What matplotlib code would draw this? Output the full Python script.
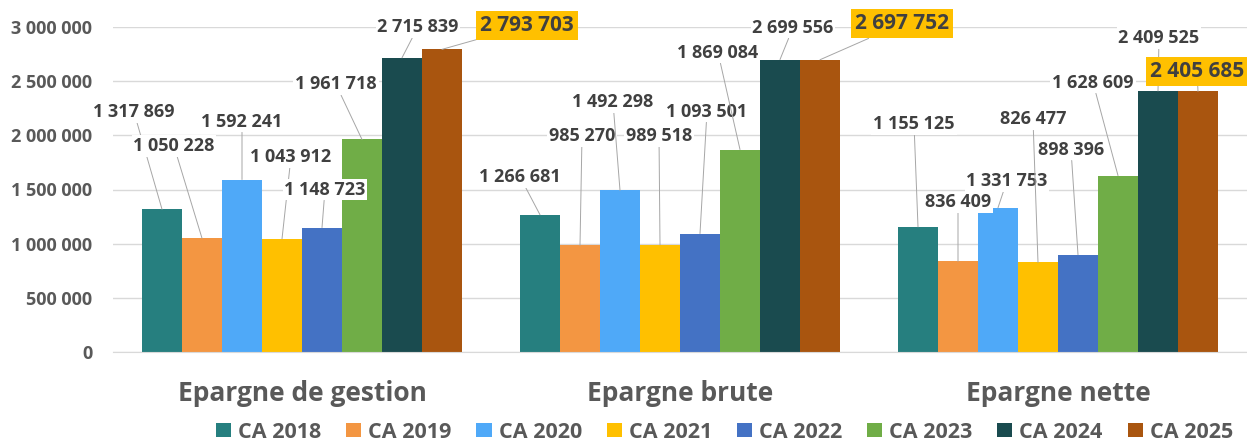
import matplotlib
matplotlib.use('Agg')
import matplotlib.pyplot as plt
import numpy as np

# --- Données ---
categories = ['Epargne de gestion', 'Epargne brute', 'Epargne nette']
series = ['CA 2018', 'CA 2019', 'CA 2020', 'CA 2021', 'CA 2022', 'CA 2023', 'CA 2024', 'CA 2025']

ca_2018 = [1317869, 1266681, 1155125]
ca_2019 = [1050228, 985270, 836409]
ca_2020 = [1592241, 1492298, 1331753]
ca_2021 = [1043912, 989518, 826477]
ca_2022 = [1148723, 1093501, 898396]
ca_2023 = [1961718, 1869084, 1628609]
ca_2024 = [2715839, 2699556, 2409525]
ca_2025 = [2793703, 2697752, 2405685]

values = [ca_2018, ca_2019, ca_2020, ca_2021, ca_2022, ca_2023, ca_2024, ca_2025]
yticks = [0, 500000, 1000000, 1500000, 2000000, 2500000, 3000000]

# --- Style ---
colors = ['#267F7F', '#F39642', '#4FA9F8', '#FFC000', '#4472C4', '#70AD47', '#1A4B4F', '#A9550F']
highlight = 'CA 2025'

# décalage des étiquettes (pixels, par rapport au haut de la barre)
label_offsets = [
    [(-28, -97), (-20, -38), (-4, -103)],
    [(-28, -92), (2, -109), (0, -59)],
    [(0, -58), (-7, -88), (9, -27)],
    [(9, -82), (-1, -109), (-5, -143)],
    [(3, -38), (7, -122), (-7, -105)],
    [(-26, -55), (-22, -97), (-25, -93)],
    [(16, -31), (13, -32), (1, -53)],
    [(85, -24), (82, -36), (-1, -20)],
]

plt.rcParams['font.family'] = ['Open Sans', 'DejaVu Sans']
plt.rcParams['font.weight'] = 'bold'

TXT = '#595959'
LBL = '#404040'


def fmt(v):
    return '{:,}'.format(int(v)).replace(',', ' ')


fig = plt.figure(figsize=(12.47, 4.45), dpi=100)
ax = fig.add_axes([113 / 1247, 93 / 445, (1247 - 113) / 1247, (352 - 27) / 445])

n = len(series)
width = 40 / 378
x = np.arange(len(categories))

handles = []
for i, (name, vals) in enumerate(zip(series, values)):
    pos = x + (i - (n - 1) / 2) * width
    b = ax.bar(pos, vals, width, color=colors[i], label=name, zorder=2)
    handles.append(b)
    for j, v in enumerate(vals):
        dx, dy = label_offsets[i][j]
        if name == highlight:
            box = dict(boxstyle='square,pad=0.2', fc='#FFC000', ec='none')
            fs = 15
        else:
            box = dict(boxstyle='square,pad=0.1', fc='white', ec='none')
            fs = 13
        ax.annotate(fmt(v), xy=(pos[j], v), xytext=(dx * 0.72, -dy * 0.72),
                    textcoords='offset points', ha='center', va='center',
                    fontsize=fs, fontweight='bold', color=LBL, bbox=box,
                    annotation_clip=False, zorder=5,
                    arrowprops=dict(arrowstyle='-', color='#A6A6A6', lw=0.7,
                                    shrinkA=0, shrinkB=0))

ax.set_xlim(-0.5, 2.5)
ax.set_ylim(0, 3000000)
ax.set_yticks(yticks)
ax.set_yticklabels([fmt(t) for t in yticks], fontsize=13, color=TXT)
ax.set_xticks(x)
ax.set_xticklabels(categories, fontsize=19, color=TXT)
ax.tick_params(axis='y', length=0, pad=15)
ax.tick_params(axis='x', length=0, pad=20)
ax.grid(axis='y', color='#D9D9D9', lw=1, zorder=0)
ax.set_axisbelow(True)
for s in ['top', 'right', 'left']:
    ax.spines[s].set_visible(False)
ax.spines['bottom'].set_color('#D9D9D9')

fig.legend(handles, series, ncol=8, loc='center', bbox_to_anchor=(0.581, 1 - 432 / 445),
           frameon=False, fontsize=15.5, labelcolor=TXT, handlelength=0.7, handleheight=0.62,
           handletextpad=0.33, columnspacing=1.15, borderpad=0)

fig.savefig('out.png', dpi=100)
